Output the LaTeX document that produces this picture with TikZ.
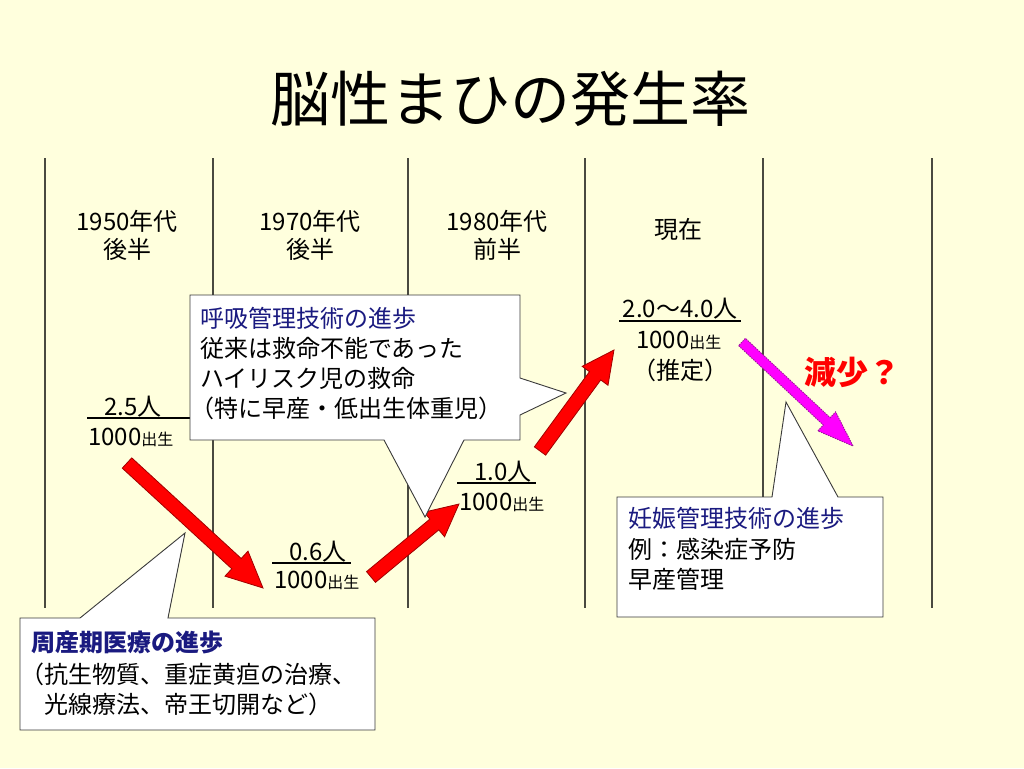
\documentclass[tikz,border=0pt]{standalone}
\usepackage{fontspec}
\setmainfont{Noto Sans CJK JP}
\definecolor{bg}{HTML}{FFFFDD}
\definecolor{navy}{HTML}{1A1A80}
\definecolor{linec}{HTML}{4A4A40}
\definecolor{boxc}{HTML}{3A3A3A}
\definecolor{darkred}{HTML}{A00000}
\definecolor{mag}{HTML}{FF00FF}
\definecolor{magedge}{HTML}{9A1A9A}
\newcommand{\blockarr}[8]{%
  \pgfmathsetmacro\baAng{atan2((#5)-(#3),(#4)-(#2))}%
  \pgfmathsetmacro\baLen{veclen((#4)-(#2),(#5)-(#3))}%
  \pgfmathsetmacro\baHb{\baLen-(#8)}%
  \draw[#1] [shift={(#2,#3)}, rotate=\baAng] (0,-#6) -- (\baHb,-#6) -- (\baHb,-#7) -- (\baLen,0) -- (\baHb,#7) -- (\baHb,#6) -- (0,#6) -- cycle;%
}
\newcommand{\sm}[1]{{\fontsize{16}{18}\selectfont #1}}
\begin{document}
\begin{tikzpicture}[x=1pt,y=1pt,
  vline/.style={draw=linec, line width=1.2pt},
  uline/.style={draw=black, line width=1.2pt},
  callout/.style={draw=boxc, fill=white, line width=0.9pt, line join=miter},
  t/.style={inner sep=0pt, font=\fontsize{24}{28}\selectfont},
  redarr/.style={fill=red, draw=darkred, line width=0.8pt, line join=miter},
  magarr/.style={fill=mag, draw=magedge, line width=0.9pt, dash pattern=on 1.5pt off 1pt, line join=miter}]
\fill[bg] (0,0) rectangle (1024,-768);
\useasboundingbox (0,0) rectangle (1024,-768);

% title
\node[inner sep=0pt, font=\fontsize{60}{66}\selectfont, anchor=base] (title) at (510,-121) {脳性まひの発生率};

% column lines
\foreach \x in {45,213,408,585,763,932} \draw[vline] (\x,-158) -- (\x,-608);

% column headers
\node[t, anchor=base] (h1a) at (127,-230) {1950年代};
\node[t, anchor=base] (h1b) at (127,-258) {後半};
\node[t, anchor=base] (h2a) at (310,-230) {1970年代};
\node[t, anchor=base] (h2b) at (310,-258) {後半};
\node[t, anchor=base] (h3a) at (497,-230) {1980年代};
\node[t, anchor=base] (h3b) at (497,-258) {前半};
\node[t, anchor=base] (h4) at (678,-238) {現在};

% values
\node[t, anchor=base] (v1) at (133,-415) {2.5人};
\draw[uline] (87,-418) -- (196,-418);
\node[t, anchor=base west] (v1b) at (88,-445) {1000\sm{出生}};

\node[t, anchor=base] (v2) at (318,-560) {0.6人};
\draw[uline] (272,-563) -- (351,-563);
\node[t, anchor=base west] (v2b) at (274,-588) {1000\sm{出生}};

\node[t, anchor=base] (v3) at (503,-480) {1.0人};
\draw[uline] (457,-483) -- (536,-483);
\node[t, anchor=base west] (v3b) at (459,-510) {1000\sm{出生}};

\node[t, anchor=base] (v4) at (680,-317) {2.0〜4.0人};
\draw[uline] (619,-321) -- (741,-321);
\node[t, anchor=base west] (v4b) at (636,-348) {1000\sm{出生}};
\node[t, anchor=base] (v4c) at (680,-379) {（推定）};

% arrows
\blockarr{redarr}{127}{-463}{263}{-588}{7}{17}{36}
\blockarr{redarr}{371}{-577}{459}{-504}{7}{16}{32}
\blockarr{redarr}{540}{-451}{614}{-350}{7}{16}{32}
\blockarr{magarr}{742}{-342}{853}{-446}{5}{13}{36}

% callouts
\draw[callout] (190,-295) -- (520,-295) -- (520,-378) -- (566,-393) -- (520,-415) -- (520,-440)
  -- (464,-440) -- (425,-517) -- (384,-440) -- (190,-440) -- cycle;
\draw[callout] (20,-618) -- (80,-618) -- (185,-533) -- (168,-618) -- (375,-618) -- (375,-730) -- (20,-730) -- cycle;
\draw[callout] (617,-497) -- (772,-497) -- (786,-402) -- (838,-497) -- (883,-497) -- (883,-617) -- (617,-617) -- cycle;

% callout texts
\node[t, anchor=base west, text=navy] (c1a) at (200,-327) {呼吸管理技術の進歩};
\node[t, anchor=base west] (c1b) at (200,-357) {従来は救命不能であった};
\node[t, anchor=base west] (c1c) at (200,-387) {ハイリスク児の救命};
\node[t, anchor=base west] (c1d) at (190,-417) {（特に早産・低出生体重児）};

\node[t, anchor=base west, text=navy, font=\fontsize{24}{28}\selectfont\bfseries] (c2a) at (31,-651) {周産期医療の進歩};
\node[t, anchor=base west] (c2b) at (20,-683) {（抗生物質、重症黄疸の治療、};
\node[t, anchor=base west] (c2c) at (20,-713) {　光線療法、帝王切開など）};

\node[t, anchor=base west, text=navy] (c3a) at (628,-527) {妊娠管理技術の進歩};
\node[t, anchor=base west] (c3b) at (628,-558) {例：感染症予防};
\node[t, anchor=base west] (c3c) at (628,-588) {早産管理};

\node[inner sep=0pt, anchor=base, text=red, font=\fontsize{32}{36}\selectfont\bfseries] (dec) at (852,-384) {減少？};
\end{tikzpicture}
\end{document}
